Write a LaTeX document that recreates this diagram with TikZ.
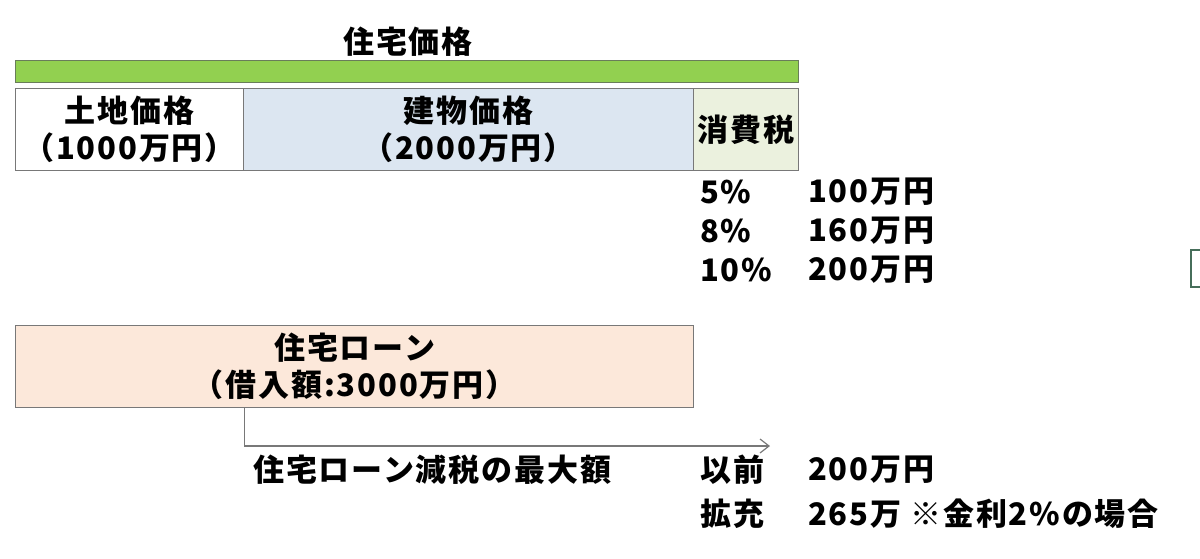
\documentclass[tikz,border=0pt]{standalone}
\usepackage{fontspec}
\setmainfont{Noto Sans CJK JP}[LetterSpace=6]
\usepackage{xcolor}
\usetikzlibrary{arrows.meta}
\definecolor{bargreen}{RGB}{146,208,80}
\definecolor{barline}{RGB}{105,125,90}
\definecolor{boxline}{RGB}{120,120,120}
\definecolor{buildblue}{RGB}{220,230,241}
\definecolor{taxgreen}{RGB}{235,241,222}
\definecolor{loanpeach}{RGB}{252,232,218}
\definecolor{edgegreen}{RGB}{70,110,90}

\tikzset{
  jp/.style={font=\fontsize{31}{37}\selectfont\bfseries, inner sep=0pt},
  pricebox/.style={draw=boxline, line width=1.2pt, anchor=north west, jp, align=center, minimum height=82},
}

\begin{document}
\begin{tikzpicture}[x=1pt, y=-1pt]
    \useasboundingbox (0,0) rectangle (1200,558);

    % Total price
    \node[jp] (title) at (408,42) {住宅価格};
    \node[draw=barline, line width=1.2pt, fill=bargreen, anchor=north west, minimum width=783, minimum height=22, inner sep=0pt] (bar) at (15,60) {};

    % Price breakdown
    \node[pricebox, fill=white, minimum width=228] (land) at (15,88) {土地価格\\（1000万円）};
    \node[pricebox, fill=buildblue, minimum width=450] (build) at (243,88) {建物価格\\（2000万円）};
    \node[pricebox, fill=taxgreen, minimum width=105] (tax) at (693,88) {消費税};

    % Tax rates
    \node[jp, anchor=west] (rate5) at (700,192) {5\%};
    \node[jp, anchor=west] (amount5) at (808,192) {100万円};
    \node[jp, anchor=west] (rate8) at (700,231) {8\%};
    \node[jp, anchor=west] (amount8) at (808,231) {160万円};
    \node[jp, anchor=west] (rate10) at (700,270) {10\%};
    \node[jp, anchor=west] (amount10) at (808,270) {200万円};

    % Loan
    \node[pricebox, fill=loanpeach, minimum width=678] (loan) at (15,325) {住宅ローン\\（借入額:3000万円）};
    \coordinate (arrowend) at (770,446);
    \draw[boxline, line width=1.2pt, -{Straight Barb[length=9pt,width=14pt]}] (loan.south -| land.east) |- (arrowend);

    % Tax deduction
    \node[jp, anchor=west] (maxlabel) at (253,470) {住宅ローン減税の最大額};
    \node[jp, anchor=west] (before) at (700,470) {以前};
    \node[jp, anchor=west] (beforeamount) at (808,470) {200万円};
    \node[jp, anchor=west] (expand) at (700,514) {拡充};
    \node[jp, anchor=west] (expandamount) at (808,514) {265万 ※金利2\%の場合};

    \draw[edgegreen, line width=1.5pt] (1200,250) -- (1191,250) -- (1191,287) -- (1200,287);
\end{tikzpicture}
\end{document}
